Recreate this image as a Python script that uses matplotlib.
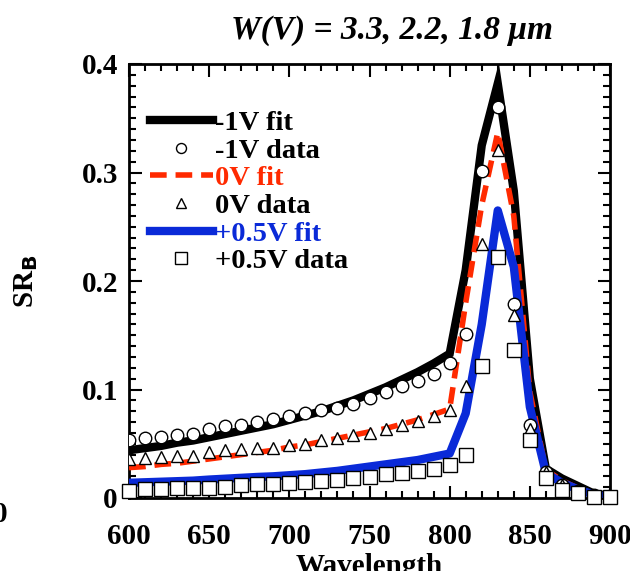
import numpy as np
import matplotlib
matplotlib.use("Agg")
import matplotlib.pyplot as plt
from matplotlib.ticker import MultipleLocator


# wavelengths (nm) for data points and fits
wl = list(range(600, 901, 10))

# measured points
data_m1 = [0.053, 0.055, 0.056, 0.058, 0.059, 0.064, 0.066, 0.067, 0.070, 0.073,
           0.076, 0.078, 0.081, 0.083, 0.087, 0.092, 0.098, 0.103, 0.108, 0.114,
           0.124, 0.151, 0.301, 0.360, 0.179, 0.067, 0.024, 0.012, 0.006, 0.003, 0.002]
data_0 = [0.036, 0.037, 0.038, 0.039, 0.039, 0.042, 0.044, 0.045, 0.046, 0.046,
          0.049, 0.050, 0.053, 0.055, 0.058, 0.060, 0.064, 0.067, 0.071, 0.076,
          0.081, 0.103, 0.234, 0.321, 0.169, 0.064, 0.024, 0.012, 0.006, 0.003, 0.002]
data_p05 = [0.0064, 0.008, 0.0086, 0.0089, 0.0095, 0.0095, 0.0104, 0.0117, 0.0126, 0.0132,
            0.0141, 0.015, 0.016, 0.0169, 0.0181, 0.0196, 0.022, 0.0233, 0.0249, 0.0264,
            0.0304, 0.0396, 0.122, 0.222, 0.136, 0.0535, 0.0187, 0.0074, 0.0043, 0.0012, 0.0012]

# model fits
fit_m1 = [0.044, 0.046, 0.048, 0.051, 0.053, 0.056, 0.059, 0.062, 0.065, 0.068,
          0.072, 0.076, 0.080, 0.085, 0.090, 0.096, 0.102, 0.109, 0.116, 0.124,
          0.133, 0.210, 0.325, 0.382, 0.283, 0.110, 0.027, 0.018, 0.011, 0.004, 0.002]
fit_0 = [0.028, 0.029, 0.031, 0.032, 0.034, 0.036, 0.038, 0.040, 0.042, 0.044,
         0.047, 0.049, 0.052, 0.055, 0.058, 0.061, 0.064, 0.068, 0.072, 0.077,
         0.082, 0.180, 0.270, 0.337, 0.260, 0.098, 0.026, 0.016, 0.009, 0.003, 0.002]
fit_p05 = [0.014, 0.0145, 0.015, 0.0155, 0.016, 0.017, 0.0178, 0.0186, 0.0194, 0.020,
           0.021, 0.022, 0.0235, 0.025, 0.027, 0.029, 0.031, 0.033, 0.035, 0.038,
           0.041, 0.078, 0.160, 0.265, 0.213, 0.084, 0.023, 0.014, 0.008, 0.003, 0.001]

xticks = [600, 650, 700, 750, 800, 850, 900]
yticks = [0, 0.1, 0.2, 0.3, 0.4]
ytick_labels = ["0", "0.1", "0.2", "0.3", "0.4"]

plt.rcParams["font.family"] = ["Liberation Serif", "DejaVu Serif"]
plt.rcParams["font.weight"] = "bold"

fig = plt.figure(figsize=(6.3, 5.71), dpi=100)
ax = fig.add_axes([129 / 630, 1 - 498 / 571, 481 / 630, 434 / 571])

ax.plot(wl, fit_m1, color="black", lw=6, solid_joinstyle="miter", label="-1V fit", zorder=2)
ax.plot(wl, data_m1, "o", ms=9, mfc="white", mec="black", mew=1.0, label="-1V data", zorder=5)
ax.plot(wl, fit_0, color="#ff2a00", lw=4, ls=(0, (3, 1.6)), label="0V fit", zorder=3)
ax.plot(wl, data_0, "^", ms=9, mfc="white", mec="black", mew=1.0, label="0V data", zorder=5)
ax.plot(wl, fit_p05, color="#0a2ad8", lw=6, label="+0.5V fit", zorder=4)
ax.plot(wl, data_p05, "s", ms=10, mfc="white", mec="black", mew=1.0, label="+0.5V data",
        zorder=5, clip_on=False)

ax.set_xlim(600, 900)
ax.set_ylim(0, 0.4)
ax.set_xticks(xticks)
ax.set_yticks(yticks)
ax.set_yticklabels(ytick_labels)
ax.xaxis.set_minor_locator(MultipleLocator(10))
ax.yaxis.set_minor_locator(MultipleLocator(0.01))
ax.tick_params(which="both", direction="in", top=True, right=True, width=1.5)
ax.tick_params(which="major", length=9, labelsize=21, pad=18)
ax.tick_params(axis="y", which="major", pad=8)
ax.tick_params(which="minor", length=5)
for s in ax.spines.values():
    s.set_linewidth(2)

ax.set_xlabel("Wavelength", fontsize=21, fontweight="bold", labelpad=2)
ax.set_ylabel(r"SR$_\mathbf{B}$", fontsize=21, fontweight="bold", labelpad=30)
fig.text(392 / 630, 1 - 31 / 571, "W(V) = 3.3, 2.2, 1.8 \u03bcm", fontsize=24,
         fontweight="bold", style="italic", ha="center", va="center")

leg = ax.legend(loc="upper left", bbox_to_anchor=(0.02, 0.92), frameon=False,
                fontsize=20.5, handlelength=2.2, handletextpad=0.1, labelspacing=0.06,
                markerscale=0.8, borderaxespad=0.0)
text_colors = ["black", "black", "#ff2a00", "black", "#0a2ad8", "black"]
for t, c in zip(leg.get_texts(), text_colors):
    t.set_color(c)

# stray clipped glyph at the left edge of the original figure
fig.text(-0.012, 0.085, "0", fontsize=21, fontweight="bold")

fig.savefig("out.png", dpi=100)
